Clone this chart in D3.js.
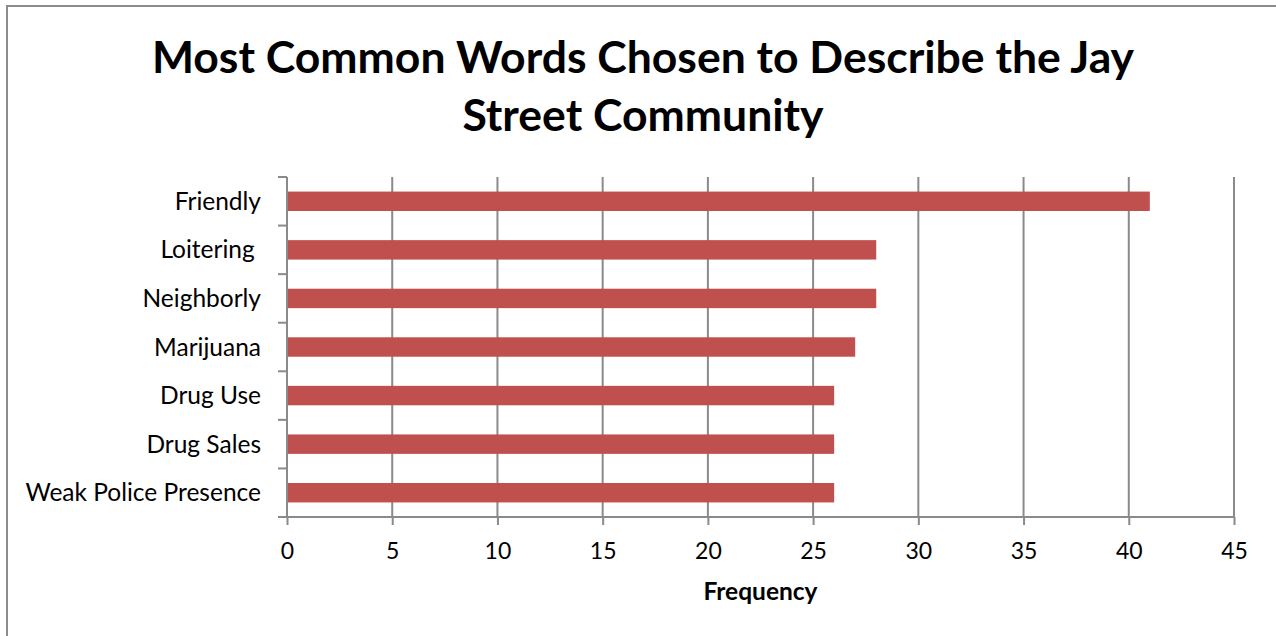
<!DOCTYPE html>
<html><head><meta charset="utf-8">
<script src="https://cdn.jsdelivr.net/npm/d3@7"></script>
<style>
html,body{margin:0;padding:0;background:#fff;}
svg{display:block;}
text{font-family:Lato,"Open Sans",sans-serif;fill:#000;white-space:pre;}
</style></head>
<body><svg id="c" width="1276" height="636"></svg>
<script>
const categories = ["Friendly","Loitering ","Neighborly","Marijuana","Drug Use","Drug Sales","Weak Police Presence"];
const values = [41,28,28,27,26,26,26];
const xTicks = [0,5,10,15,20,25,30,35,40,45];
const titleLines = ["Most Common Words Chosen to Describe the Jay","Street Community"];
const xTitle = "Frequency";

const svg = d3.select("#c");
const m = {left:287, right:1234, top:177, bottom:517};
const x = d3.scaleLinear().domain([0,45]).range([m.left,m.right]);
const y = d3.scaleBand().domain(categories).range([m.top,m.bottom]).paddingInner(0.6).paddingOuter(0.3);
const yOuter = d3.scaleBand().domain(categories).range([m.top,m.bottom]);

// chart border
svg.append("rect").attr("x",7).attr("y",6).attr("width",1300).attr("height",700)
  .attr("fill","none").attr("stroke","#8c8c8c").attr("stroke-width",2);

// title
const t = svg.append("text").attr("text-anchor","middle").attr("font-weight","bold").attr("font-size",44.5);
titleLines.forEach((l,i)=>t.append("tspan").attr("x",643).attr("y",73+58*i).text(l));

// gridlines
svg.append("g").selectAll("line").data(xTicks.slice(1)).join("line")
  .attr("x1",d=>x(d)).attr("x2",d=>x(d)).attr("y1",m.top).attr("y2",m.bottom)
  .attr("stroke","#8a8a8a").attr("stroke-width",2);

// bars
svg.append("g").selectAll("rect").data(values).join("rect")
  .attr("x",x(0)).attr("y",(d,i)=>y(categories[i])).attr("width",d=>x(d)-x(0))
  .attr("height",y.bandwidth()).attr("fill","#C0504D");

// x axis
const xa = svg.append("g").attr("transform",`translate(0,${m.bottom})`)
  .call(d3.axisBottom(x).tickValues(xTicks).tickSize(8).tickPadding(18).tickFormat(d3.format("d")));
xa.select(".domain").attr("stroke","#8a8a8a").attr("stroke-width",2).attr("d",`M${m.left},0H${m.right}`);
xa.selectAll(".tick line").attr("stroke","#8a8a8a").attr("stroke-width",2);
xa.selectAll(".tick text").attr("font-size",23).attr("font-family","Lato");

// y axis: ticks at band boundaries
const ya = svg.append("g").attr("transform",`translate(${m.left},0)`);
ya.append("line").attr("x1",0).attr("x2",0).attr("y1",m.top).attr("y2",m.bottom).attr("stroke","#8a8a8a").attr("stroke-width",2);
const bounds = categories.map(c=>yOuter(c)).concat([m.bottom]);
ya.selectAll("line.tk").data(bounds).join("line").attr("class","tk")
  .attr("x1",-9).attr("x2",0).attr("y1",d=>d).attr("y2",d=>d).attr("stroke","#8a8a8a").attr("stroke-width",2);
ya.selectAll("text").data(categories).join("text")
  .attr("x",-26).attr("y",d=>yOuter(d)+yOuter.bandwidth()/2).attr("dy","0.35em")
  .attr("text-anchor","end").attr("font-size",24.5).text(d=>d);

// x title
svg.append("text").attr("x",(m.left+m.right)/2).attr("y",600).attr("text-anchor","middle")
  .attr("font-weight","bold").attr("font-size",24.5).text(xTitle);
</script></body></html>
